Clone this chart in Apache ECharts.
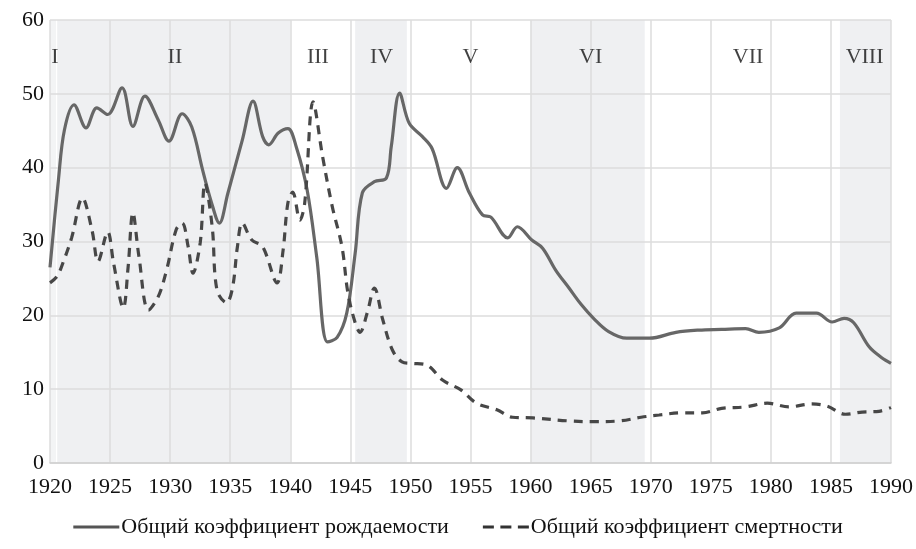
<!DOCTYPE html>
<html>
<head>
<meta charset="utf-8">
<script src="https://cdn.jsdelivr.net/npm/echarts@6/dist/echarts.min.js"></script>
<style>html,body{margin:0;padding:0;background:#fff;}#c{width:916px;height:549px;}</style>
</head>
<body>
<div id="c"></div>
<script>
var birthYears = [1920.0,1920.7,1921.2,1922.0,1923.0,1923.9,1924.8,1926.0,1926.9,1927.9,1929.0,1929.9,1931.0,1931.8,1932.7,1933.4,1934.1,1934.8,1936.0,1936.9,1937.7,1938.2,1939.0,1939.8,1940.5,1941.4,1942.2,1943.1,1943.9,1944.7,1945.4,1946.0,1947.0,1948.0,1948.4,1949.1,1949.9,1951.0,1951.8,1953.0,1953.9,1954.9,1956.0,1956.7,1958.1,1958.9,1960.1,1961.0,1962.1,1963.2,1964.2,1965.3,1966.5,1968.0,1969.9,1972.1,1974.0,1975.9,1977.9,1979.0,1980.7,1982.1,1983.8,1985.1,1986.1,1986.9,1988.2,1989.2,1990.0];
var birthVals = [26.5,38.3,45.1,48.5,45.4,48.1,47.2,50.8,45.6,49.7,46.5,43.6,47.3,45.5,39.7,35.5,32.5,36.5,43.7,49.0,44.2,43.1,44.7,45.3,42.8,37.0,27.9,16.4,17.0,20.3,28.4,36.6,38.1,38.6,42.8,50.1,46.0,44.2,42.6,37.2,40.0,36.6,33.6,33.3,30.5,32.0,30.2,29.1,26.1,23.7,21.5,19.5,17.8,16.9,16.9,17.7,18.0,18.1,18.2,17.7,18.3,20.3,20.3,19.1,19.6,19.0,15.7,14.3,13.5];
var deathYears = [1920.0,1920.6,1921.1,1921.8,1922.7,1923.5,1924.0,1924.8,1925.3,1926.1,1926.5,1926.9,1927.4,1928.2,1929.0,1929.7,1930.5,1931.0,1931.5,1931.9,1932.5,1932.9,1933.5,1933.9,1934.7,1935.2,1935.6,1936.0,1936.8,1937.7,1938.9,1939.4,1939.8,1940.2,1940.8,1941.2,1941.9,1942.7,1943.5,1944.3,1944.8,1945.4,1945.8,1946.4,1947.0,1947.7,1948.5,1949.3,1950.1,1951.3,1952.7,1954.2,1955.5,1957.2,1958.5,1960.2,1963.2,1965.1,1967.4,1969.2,1970.7,1972.6,1974.3,1975.9,1977.9,1979.7,1981.5,1983.4,1984.7,1986.2,1987.6,1989.0,1990.0];
var deathVals = [24.4,25.3,27.2,30.5,35.9,31.5,27.3,31.3,27.0,21.0,26.5,33.9,28.0,20.7,22.5,26.1,31.6,32.5,29.3,25.7,29.8,37.9,32.0,23.4,21.7,23.8,29.3,32.5,30.2,29.3,24.4,28.8,35.2,36.7,32.9,35.2,48.9,41.4,34.7,29.3,23.0,19.0,17.7,20.3,23.7,19.4,15.3,13.7,13.5,13.3,11.2,9.9,8.1,7.2,6.2,6.1,5.7,5.6,5.7,6.2,6.5,6.8,6.8,7.4,7.6,8.1,7.6,8.0,7.7,6.6,6.9,7.0,7.5];

var bandNames = ['I','II','III','IV','V','VI','VII','VIII'];
var bandStart = [1920.0,1920.6,1940.0,1945.4,1950.0,1960.0,1969.5,1985.75];
var bandEnd   = [1920.5,1940.0,1945.0,1949.7,1960.0,1969.5,1985.75,1990.0];
var bandShaded = [true,true,false,true,false,true,false,true];
var bandLabelAt = [1920.4,1930.4,1942.3,1947.6,1955.0,1965.0,1978.1,1987.8];

var seriesNames = ['Общий коэффициент рождаемости','Общий коэффициент смертности'];
var xTicks = {min:1920, max:1990, interval:5};
var yTicks = {min:0, max:60, interval:10};

function pairs(xs, ys){ return xs.map(function(x,i){return [x, ys[i]];}); }

var FONT = '"Liberation Serif","DejaVu Serif",serif';
var fills = bandNames.map(function(n,i){
  return [{
    xAxis: bandStart[i], yAxis: 60,
    itemStyle: {color: bandShaded[i] ? (i===0 ? '#f3f4f5' : '#eff0f2') : 'rgba(255,255,255,0)'}
  },{xAxis: bandEnd[i], yAxis: 0}];
});
var labelPts = bandNames.map(function(n,i){ return {name:n, value:[bandLabelAt[i], 54.9]}; });

var chart = echarts.init(document.getElementById('c'), null, {renderer:'canvas'});
chart.setOption({
  animation:false,
  backgroundColor:'#ffffff',
  grid:{left:50, right:24, top:20, bottom:86, containLabel:false},
  xAxis:{type:'value', min:xTicks.min, max:xTicks.max, interval:xTicks.interval, z:2,
    axisLine:{show:true, lineStyle:{color:'#cfcfcf', width:1.5}},
    axisTick:{show:false},
    splitLine:{show:true, lineStyle:{color:'#dcdcdc', width:1.5}},
    axisLabel:{color:'#111', fontFamily:FONT, fontSize:22, margin:13, formatter:function(v){return String(v);}}
  },
  yAxis:{type:'value', min:yTicks.min, max:yTicks.max, interval:yTicks.interval, z:2,
    axisLine:{show:false}, axisTick:{show:false},
    splitLine:{show:true, lineStyle:{color:'#dcdcdc', width:1.5}},
    axisLabel:{color:'#111', fontFamily:FONT, fontSize:22, margin:6}
  },
  legend:{bottom:6, left:'center', itemWidth:46, itemHeight:3, itemGap:34,
    textStyle:{color:'#111', fontFamily:FONT, fontSize:22, padding:[0,0,0,-3]},
    data:[
      {name:seriesNames[0], icon:'path://M0,0H46V3H0Z', itemStyle:{color:'#555'}},
      {name:seriesNames[1], icon:'path://M0,0H11V3H0Z M17.5,0H28.5V3H17.5Z M35,0H46V3H35Z', itemStyle:{color:'#333'}}
    ]
  },
  series:[
    {type:'line', name:'bands', data:[], z:1, silent:true,
      markArea:{silent:true, data:fills}},
    {type:'line', name:seriesNames[0], data:pairs(birthYears,birthVals), smooth:0.35, showSymbol:false, symbol:'none', z:3,
      lineStyle:{color:'#676767', width:3.2}, itemStyle:{color:'#676767'}},
    {type:'line', name:seriesNames[1], data:pairs(deathYears,deathVals), smooth:0.35, showSymbol:false, symbol:'none', z:3,
      lineStyle:{color:'#474747', width:3.2, type:[9,7]}, itemStyle:{color:'#474747'}},
    {type:'scatter', name:'labels', data:labelPts, symbolSize:0, z:4, silent:true,
      label:{show:true, position:'inside', formatter:function(p){return p.name;}, color:'#111', fontFamily:FONT, fontSize:22}}
  ]
});
</script>
</body>
</html>
